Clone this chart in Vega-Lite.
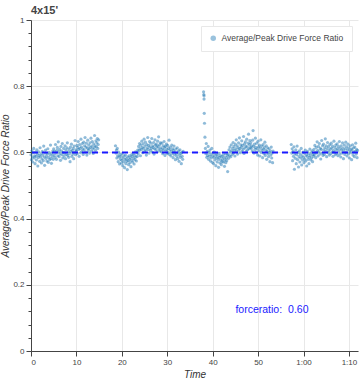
{
"$schema": "https://vega.github.io/schema/vega-lite/v6.json",
"width": 327,
"height": 331,
"autosize": {"type": "none"},
"padding": {"left": 31, "top": 20, "right": 3, "bottom": 29},
"title": {"text": "4x15'", "anchor": "start", "frame": "group", "fontSize": 11, "fontWeight": "bold", "color": "#444", "offset": 0, "font": "Liberation Sans"},
"config": {
  "font": "Liberation Sans",
  "view": {"stroke": null},
  "axis": {"domainColor": "#444", "tickColor": "#444", "tickSize": 5, "labelFontSize": 8, "labelColor": "#444", "gridColor": "#e8e8e8", "titleFontStyle": "italic", "titleFontWeight": "normal", "titleFontSize": 10, "titleColor": "#333", "labelPadding": 2},
  "legend": {"strokeColor": "#e8e8e8", "fillColor": "white", "padding": 8, "labelFontSize": 8.5, "labelColor": "#444", "symbolType": "circle", "symbolSize": 30, "symbolOpacity": 0.45, "orient": "top-right", "offset": 6}
},
"resolve": {"axis": {"y": "independent"}},
"datasets": {
"pts": [
{"t":0,"r":0.593},{"t":0.1,"r":0.578},{"t":0.2,"r":0.605},{"t":0.3,"r":0.586},{"t":0.4,"r":0.571},{"t":0.5,"r":0.599},{"t":0.6,"r":0.612},{"t":0.7,"r":0.583},{"t":0.8,"r":0.59},{"t":0.9,"r":0.566},
{"t":1,"r":0.601},{"t":1.1,"r":0.588},{"t":1.2,"r":0.577},{"t":1.3,"r":0.608},{"t":1.4,"r":0.595},{"t":1.5,"r":0.559},{"t":1.6,"r":0.584},{"t":1.7,"r":0.602},{"t":1.8,"r":0.591},{"t":1.9,"r":0.573},
{"t":2,"r":0.614},{"t":2.1,"r":0.587},{"t":2.2,"r":0.596},{"t":2.3,"r":0.568},{"t":2.4,"r":0.58},{"t":2.5,"r":0.603},{"t":2.6,"r":0.592},{"t":2.7,"r":0.575},{"t":2.8,"r":0.619},{"t":2.9,"r":0.586},
{"t":3,"r":0.561},{"t":3.1,"r":0.598},{"t":3.2,"r":0.607},{"t":3.3,"r":0.582},{"t":3.4,"r":0.589},{"t":3.5,"r":0.574},{"t":3.6,"r":0.596},{"t":3.7,"r":0.611},{"t":3.8,"r":0.57},{"t":3.9,"r":0.585},
{"t":4,"r":0.6},{"t":4.1,"r":0.578},{"t":4.2,"r":0.593},{"t":4.3,"r":0.622},{"t":4.4,"r":0.581},{"t":4.5,"r":0.567},{"t":4.6,"r":0.597},{"t":4.7,"r":0.588},{"t":4.8,"r":0.604},{"t":4.9,"r":0.579},
{"t":5,"r":0.611},{"t":5.1,"r":0.592},{"t":5.2,"r":0.603},{"t":5.3,"r":0.585},{"t":5.4,"r":0.624},{"t":5.5,"r":0.598},{"t":5.6,"r":0.579},{"t":5.7,"r":0.606},{"t":5.8,"r":0.615},{"t":5.9,"r":0.59},
{"t":6,"r":0.632},{"t":6.1,"r":0.601},{"t":6.2,"r":0.587},{"t":6.3,"r":0.609},{"t":6.4,"r":0.596},{"t":6.5,"r":0.576},{"t":6.6,"r":0.618},{"t":6.7,"r":0.604},{"t":6.8,"r":0.593},{"t":6.9,"r":0.627},
{"t":7,"r":0.583},{"t":7.1,"r":0.6},{"t":7.2,"r":0.612},{"t":7.3,"r":0.589},{"t":7.4,"r":0.598},{"t":7.5,"r":0.62},{"t":7.6,"r":0.581},{"t":7.7,"r":0.607},{"t":7.8,"r":0.594},{"t":7.9,"r":0.614},
{"t":8,"r":0.629},{"t":8.1,"r":0.591},{"t":8.2,"r":0.602},{"t":8.3,"r":0.585},{"t":8.4,"r":0.61},{"t":8.5,"r":0.597},{"t":8.6,"r":0.572},{"t":8.7,"r":0.616},{"t":8.8,"r":0.603},{"t":8.9,"r":0.625},
{"t":9,"r":0.588},{"t":9.1,"r":0.606},{"t":9.2,"r":0.595},{"t":9.3,"r":0.612},{"t":9.4,"r":0.581},{"t":9.5,"r":0.619},{"t":9.6,"r":0.6},{"t":9.7,"r":0.636},{"t":9.8,"r":0.593},{"t":9.9,"r":0.608},
{"t":10,"r":0.604},{"t":10.1,"r":0.621},{"t":10.2,"r":0.596},{"t":10.3,"r":0.615},{"t":10.4,"r":0.633},{"t":10.5,"r":0.609},{"t":10.6,"r":0.588},{"t":10.7,"r":0.624},{"t":10.8,"r":0.612},{"t":10.9,"r":0.599},
{"t":11,"r":0.64},{"t":11.1,"r":0.617},{"t":11.2,"r":0.603},{"t":11.3,"r":0.627},{"t":11.4,"r":0.611},{"t":11.5,"r":0.594},{"t":11.6,"r":0.631},{"t":11.7,"r":0.608},{"t":11.8,"r":0.62},{"t":11.9,"r":0.645},
{"t":12,"r":0.601},{"t":12.1,"r":0.616},{"t":12.2,"r":0.628},{"t":12.3,"r":0.592},{"t":12.4,"r":0.613},{"t":12.5,"r":0.637},{"t":12.6,"r":0.606},{"t":12.7,"r":0.622},{"t":12.8,"r":0.611},{"t":12.9,"r":0.598},
{"t":13,"r":0.629},{"t":13.1,"r":0.615},{"t":13.2,"r":0.643},{"t":13.3,"r":0.604},{"t":13.4,"r":0.619},{"t":13.5,"r":0.633},{"t":13.6,"r":0.61},{"t":13.7,"r":0.597},{"t":13.8,"r":0.626},{"t":13.9,"r":0.614},
{"t":14,"r":0.651},{"t":14.1,"r":0.62},{"t":14.2,"r":0.606},{"t":14.3,"r":0.635},{"t":14.4,"r":0.617},{"t":14.5,"r":0.629},{"t":14.6,"r":0.642},{"t":14.7,"r":0.612},{"t":14.8,"r":0.624},{"t":14.9,"r":0.638},
{"t":18.6,"r":0.62},{"t":18.7,"r":0.598},{"t":18.8,"r":0.607},{"t":18.9,"r":0.583},{"t":19,"r":0.612},{"t":19.1,"r":0.59},{"t":19.2,"r":0.572},{"t":19.3,"r":0.601},{"t":19.4,"r":0.586},{"t":19.5,"r":0.565},
{"t":19.6,"r":0.594},{"t":19.7,"r":0.579},{"t":19.8,"r":0.588},{"t":19.9,"r":0.568},{"t":20,"r":0.576},{"t":20.1,"r":0.596},{"t":20.2,"r":0.56},{"t":20.3,"r":0.583},{"t":20.4,"r":0.571},{"t":20.5,"r":0.589},
{"t":20.6,"r":0.554},{"t":20.7,"r":0.578},{"t":20.8,"r":0.592},{"t":20.9,"r":0.566},{"t":21,"r":0.581},{"t":21.1,"r":0.573},{"t":21.2,"r":0.548},{"t":21.3,"r":0.586},{"t":21.4,"r":0.575},{"t":21.5,"r":0.563},
{"t":21.6,"r":0.59},{"t":21.7,"r":0.579},{"t":21.8,"r":0.569},{"t":21.9,"r":0.584},{"t":22,"r":0.557},{"t":22.1,"r":0.593},{"t":22.2,"r":0.576},{"t":22.3,"r":0.588},{"t":22.4,"r":0.571},{"t":22.5,"r":0.597},
{"t":22.6,"r":0.582},{"t":22.7,"r":0.565},{"t":22.8,"r":0.591},{"t":22.9,"r":0.578},{"t":23,"r":0.602},{"t":23.1,"r":0.586},{"t":23.2,"r":0.574},{"t":23.3,"r":0.599},{"t":23.4,"r":0.588},{"t":23.5,"r":0.607},
{"t":23.6,"r":0.596},{"t":23.7,"r":0.618},{"t":23.8,"r":0.605},{"t":23.9,"r":0.627},{"t":24,"r":0.611},{"t":24.1,"r":0.59},{"t":24.2,"r":0.622},{"t":24.3,"r":0.608},{"t":24.4,"r":0.634},{"t":24.5,"r":0.615},
{"t":24.6,"r":0.599},{"t":24.7,"r":0.626},{"t":24.8,"r":0.612},{"t":24.9,"r":0.64},{"t":25,"r":0.603},{"t":25.1,"r":0.619},{"t":25.2,"r":0.631},{"t":25.3,"r":0.607},{"t":25.4,"r":0.592},{"t":25.5,"r":0.624},
{"t":25.6,"r":0.614},{"t":25.7,"r":0.645},{"t":25.8,"r":0.609},{"t":25.9,"r":0.621},{"t":26,"r":0.598},{"t":26.1,"r":0.633},{"t":26.2,"r":0.617},{"t":26.3,"r":0.606},{"t":26.4,"r":0.628},{"t":26.5,"r":0.612},
{"t":26.6,"r":0.642},{"t":26.7,"r":0.601},{"t":26.8,"r":0.62},{"t":26.9,"r":0.615},{"t":27,"r":0.63},{"t":27.1,"r":0.595},{"t":27.2,"r":0.611},{"t":27.3,"r":0.638},{"t":27.4,"r":0.622},{"t":27.5,"r":0.608},
{"t":27.6,"r":0.625},{"t":27.7,"r":0.616},{"t":27.8,"r":0.602},{"t":27.9,"r":0.634},{"t":28,"r":0.618},{"t":28.1,"r":0.647},{"t":28.2,"r":0.61},{"t":28.3,"r":0.623},{"t":28.4,"r":0.605},{"t":28.5,"r":0.629},
{"t":28.6,"r":0.614},{"t":28.7,"r":0.602},{"t":28.8,"r":0.628},{"t":28.9,"r":0.61},{"t":29,"r":0.596},{"t":29.1,"r":0.62},{"t":29.2,"r":0.607},{"t":29.3,"r":0.633},{"t":29.4,"r":0.615},{"t":29.5,"r":0.591},
{"t":29.6,"r":0.618},{"t":29.7,"r":0.604},{"t":29.8,"r":0.625},{"t":29.9,"r":0.609},{"t":30,"r":0.597},{"t":30.1,"r":0.621},{"t":30.2,"r":0.6},{"t":30.3,"r":0.612},{"t":30.4,"r":0.637},{"t":30.5,"r":0.594},
{"t":30.6,"r":0.608},{"t":30.7,"r":0.616},{"t":30.8,"r":0.589},{"t":30.9,"r":0.603},{"t":31,"r":0.622},{"t":31.1,"r":0.597},{"t":31.2,"r":0.611},{"t":31.3,"r":0.584},{"t":31.4,"r":0.606},{"t":31.5,"r":0.619},
{"t":31.6,"r":0.593},{"t":31.7,"r":0.601},{"t":31.8,"r":0.578},{"t":31.9,"r":0.61},{"t":32,"r":0.596},{"t":32.1,"r":0.588},{"t":32.2,"r":0.614},{"t":32.3,"r":0.581},{"t":32.4,"r":0.599},{"t":32.5,"r":0.605},
{"t":32.6,"r":0.573},{"t":32.7,"r":0.592},{"t":32.8,"r":0.608},{"t":32.9,"r":0.585},{"t":33,"r":0.597},{"t":33.1,"r":0.566},{"t":33.2,"r":0.6},{"t":33.3,"r":0.588},{"t":33.4,"r":0.579},{"t":33.5,"r":0.603},
{"t":38,"r":0.783},{"t":38.05,"r":0.775},{"t":38.1,"r":0.771},{"t":38.1,"r":0.761},{"t":38.15,"r":0.718},{"t":38.2,"r":0.688},{"t":38.3,"r":0.646},
{"t":38.4,"r":0.612},{"t":38.5,"r":0.596},{"t":38.6,"r":0.627},{"t":38.7,"r":0.585},{"t":38.8,"r":0.603},{"t":38.9,"r":0.591},{"t":39,"r":0.618},{"t":39.1,"r":0.579},{"t":39.2,"r":0.6},{"t":39.3,"r":0.588},
{"t":39.4,"r":0.607},{"t":39.5,"r":0.574},{"t":39.6,"r":0.594},{"t":39.7,"r":0.583},{"t":39.8,"r":0.612},{"t":39.9,"r":0.57},{"t":40,"r":0.589},{"t":40.1,"r":0.598},{"t":40.2,"r":0.566},{"t":40.3,"r":0.585},
{"t":40.4,"r":0.601},{"t":40.5,"r":0.577},{"t":40.6,"r":0.592},{"t":40.7,"r":0.56},{"t":40.8,"r":0.583},{"t":40.9,"r":0.595},{"t":41,"r":0.571},{"t":41.1,"r":0.588},{"t":41.2,"r":0.579},{"t":41.3,"r":0.555},
{"t":41.4,"r":0.597},{"t":41.5,"r":0.584},{"t":41.6,"r":0.568},{"t":41.7,"r":0.59},{"t":41.8,"r":0.576},{"t":41.9,"r":0.563},
{"t":42,"r":0.587},{"t":42.1,"r":0.572},{"t":42.2,"r":0.58},{"t":42.3,"r":0.593},{"t":42.4,"r":0.571},{"t":42.5,"r":0.586},{"t":42.6,"r":0.558},{"t":42.7,"r":0.578},{"t":42.8,"r":0.596},{"t":42.9,"r":0.569},
{"t":43,"r":0.584},{"t":43.1,"r":0.575},{"t":43.2,"r":0.591},{"t":43.3,"r":0.542},
{"t":43.4,"r":0.595},{"t":43.5,"r":0.582},{"t":43.6,"r":0.608},{"t":43.7,"r":0.59},{"t":43.8,"r":0.616},{"t":43.9,"r":0.601},{"t":44,"r":0.587},{"t":44.1,"r":0.623},{"t":44.2,"r":0.605},{"t":44.3,"r":0.594},
{"t":44.4,"r":0.612},{"t":44.5,"r":0.63},{"t":44.6,"r":0.598},{"t":44.7,"r":0.618},{"t":44.8,"r":0.606},{"t":44.9,"r":0.589},{"t":45,"r":0.625},{"t":45.1,"r":0.611},{"t":45.2,"r":0.638},{"t":45.3,"r":0.603},
{"t":45.4,"r":0.62},{"t":45.5,"r":0.595},{"t":45.6,"r":0.614},{"t":45.7,"r":0.629},{"t":45.8,"r":0.607},{"t":45.9,"r":0.644},{"t":46,"r":0.612},{"t":46.1,"r":0.599},{"t":46.2,"r":0.623},{"t":46.3,"r":0.616},
{"t":46.4,"r":0.635},{"t":46.5,"r":0.604},{"t":46.6,"r":0.621},{"t":46.7,"r":0.61},{"t":46.8,"r":0.648},{"t":46.9,"r":0.597},{"t":47,"r":0.626},{"t":47.1,"r":0.613},{"t":47.2,"r":0.632},{"t":47.3,"r":0.619},
{"t":47.4,"r":0.603},{"t":47.5,"r":0.64},{"t":47.6,"r":0.617},{"t":47.7,"r":0.608},{"t":47.8,"r":0.628},{"t":47.9,"r":0.655},{"t":48,"r":0.611},{"t":48.1,"r":0.624},{"t":48.2,"r":0.636},{"t":48.3,"r":0.615},
{"t":48.4,"r":0.629},{"t":48.5,"r":0.612},{"t":48.6,"r":0.62},{"t":48.7,"r":0.604},{"t":48.8,"r":0.637},{"t":48.9,"r":0.666},{"t":49,"r":0.618},{"t":49.1,"r":0.598},{"t":49.2,"r":0.625},{"t":49.3,"r":0.609},
{"t":49.4,"r":0.643},{"t":49.5,"r":0.615},{"t":49.6,"r":0.601},{"t":49.7,"r":0.628},{"t":49.8,"r":0.611},{"t":49.9,"r":0.592},{"t":50,"r":0.634},{"t":50.1,"r":0.617},{"t":50.2,"r":0.605},{"t":50.3,"r":0.622},
{"t":50.4,"r":0.589},{"t":50.5,"r":0.613},{"t":50.6,"r":0.638},{"t":50.7,"r":0.6},{"t":50.8,"r":0.619},{"t":50.9,"r":0.607},{"t":51,"r":0.584},{"t":51.1,"r":0.624},{"t":51.2,"r":0.61},{"t":51.3,"r":0.596},
{"t":51.4,"r":0.615},{"t":51.5,"r":0.631},{"t":51.6,"r":0.591},{"t":51.7,"r":0.606},{"t":51.8,"r":0.62},{"t":51.9,"r":0.579},{"t":52,"r":0.603},{"t":52.1,"r":0.614},{"t":52.2,"r":0.596},{"t":52.3,"r":0.587},
{"t":52.4,"r":0.611},{"t":52.5,"r":0.6},{"t":52.6,"r":0.572},{"t":52.7,"r":0.605},{"t":52.8,"r":0.592},{"t":52.9,"r":0.616},{"t":53,"r":0.583},{"t":53.1,"r":0.598},{"t":53.2,"r":0.569},{"t":53.3,"r":0.604},
{"t":57.3,"r":0.624},{"t":57.4,"r":0.598},{"t":57.5,"r":0.611},{"t":57.6,"r":0.575},{"t":57.7,"r":0.603},{"t":57.8,"r":0.588},{"t":57.9,"r":0.617},{"t":58,"r":0.549},{"t":58.1,"r":0.596},{"t":58.2,"r":0.582},
{"t":58.3,"r":0.608},{"t":58.4,"r":0.566},{"t":58.5,"r":0.593},{"t":58.6,"r":0.619},{"t":58.7,"r":0.578},{"t":58.8,"r":0.6},{"t":58.9,"r":0.556},{"t":59,"r":0.587},{"t":59.1,"r":0.605},{"t":59.2,"r":0.571},
{"t":59.3,"r":0.595},{"t":59.4,"r":0.583},{"t":59.5,"r":0.612},{"t":59.6,"r":0.562},{"t":59.7,"r":0.59},{"t":59.8,"r":0.577},{"t":59.9,"r":0.601},{"t":60,"r":0.585},{"t":60.1,"r":0.569},{"t":60.2,"r":0.598},
{"t":60.3,"r":0.58},{"t":60.4,"r":0.607},{"t":60.5,"r":0.574},{"t":60.6,"r":0.592},{"t":60.7,"r":0.559},{"t":60.8,"r":0.588},{"t":60.9,"r":0.603},{"t":61,"r":0.579},{"t":61.1,"r":0.596},{"t":61.2,"r":0.566},
{"t":61.3,"r":0.585},{"t":61.4,"r":0.61},{"t":61.5,"r":0.591},{"t":61.6,"r":0.577},{"t":61.7,"r":0.599},{"t":61.8,"r":0.583},{"t":61.9,"r":0.605},{"t":62,"r":0.572},{"t":62.1,"r":0.594},{"t":62.2,"r":0.588},
{"t":62.3,"r":0.609},{"t":62.4,"r":0.593},{"t":62.5,"r":0.621},{"t":62.6,"r":0.6},{"t":62.7,"r":0.584},{"t":62.8,"r":0.615},{"t":62.9,"r":0.598},{"t":63,"r":0.632},{"t":63.1,"r":0.606},{"t":63.2,"r":0.589},
{"t":63.3,"r":0.618},{"t":63.4,"r":0.602},{"t":63.5,"r":0.627},{"t":63.6,"r":0.595},{"t":63.7,"r":0.612},{"t":63.8,"r":0.58},{"t":63.9,"r":0.609},{"t":64,"r":0.636},{"t":64.1,"r":0.598},{"t":64.2,"r":0.62},
{"t":64.3,"r":0.591},{"t":64.4,"r":0.625},{"t":64.5,"r":0.607},{"t":64.6,"r":0.594},{"t":64.7,"r":0.614},{"t":64.8,"r":0.641},{"t":64.9,"r":0.603},{"t":65,"r":0.62},{"t":65.1,"r":0.587},{"t":65.2,"r":0.611},
{"t":65.3,"r":0.63},{"t":65.4,"r":0.599},{"t":65.5,"r":0.617},{"t":65.6,"r":0.605},{"t":65.7,"r":0.592},{"t":65.8,"r":0.623},{"t":65.9,"r":0.61},{"t":66,"r":0.596},{"t":66.1,"r":0.628},{"t":66.2,"r":0.613},
{"t":66.3,"r":0.601},{"t":66.4,"r":0.619},{"t":66.5,"r":0.588},{"t":66.6,"r":0.606},{"t":66.7,"r":0.634},{"t":66.8,"r":0.6},{"t":66.9,"r":0.615},{"t":67,"r":0.593},{"t":67.1,"r":0.622},{"t":67.2,"r":0.608},
{"t":67.3,"r":0.597},{"t":67.4,"r":0.626},{"t":67.5,"r":0.611},{"t":67.6,"r":0.59},{"t":67.7,"r":0.618},{"t":67.8,"r":0.604},{"t":67.9,"r":0.633},{"t":68,"r":0.595},{"t":68.1,"r":0.612},{"t":68.2,"r":0.586},
{"t":68.3,"r":0.62},{"t":68.4,"r":0.607},{"t":68.5,"r":0.598},{"t":68.6,"r":0.629},{"t":68.7,"r":0.613},{"t":68.8,"r":0.581},{"t":68.9,"r":0.605},{"t":69,"r":0.622},{"t":69.1,"r":0.594},{"t":69.2,"r":0.611},
{"t":69.3,"r":0.631},{"t":69.4,"r":0.6},{"t":69.5,"r":0.617},{"t":69.6,"r":0.589},{"t":69.7,"r":0.608},{"t":69.8,"r":0.625},{"t":69.9,"r":0.596},{"t":70,"r":0.613},{"t":70.1,"r":0.583},{"t":70.2,"r":0.604},
{"t":70.3,"r":0.62},{"t":70.4,"r":0.599},{"t":70.5,"r":0.61},{"t":70.6,"r":0.578},{"t":70.7,"r":0.607},{"t":70.8,"r":0.623},{"t":70.9,"r":0.592},{"t":71,"r":0.614},{"t":71.1,"r":0.601},{"t":71.2,"r":0.587},
{"t":71.3,"r":0.616},{"t":71.4,"r":0.603},{"t":71.5,"r":0.628},{"t":71.6,"r":0.595},{"t":71.7,"r":0.609},{"t":71.8,"r":0.584},{"t":71.9,"r":0.606}
],
"lbl": [{"t":45,"r":0.124,"label":"forceratio:"},{"t":56.6,"r":0.124,"label":"0.60"}],
"ref": [{"r":0.6}],
"minor": [{"r":0.04},{"r":0.08},{"r":0.12},{"r":0.16},{"r":0.24},{"r":0.28},{"r":0.32},{"r":0.36},{"r":0.44},{"r":0.48},{"r":0.52},{"r":0.56},{"r":0.64},{"r":0.68},{"r":0.72},{"r":0.76},{"r":0.84},{"r":0.88},{"r":0.92},{"r":0.96}]
},
"layer": [
  {
    "data": {"name": "pts"},
    "mark": {"type": "point", "filled": true, "size": 10, "opacity": 0.5, "color": "#1f77b4"},
    "encoding": {
      "x": {"field": "t", "type": "quantitative", "title": "Time", "scale": {"domain": [0, 72], "nice": false},
            "axis": {"values": [0,10,20,30,40,50,60,70], "labelExpr": "datum.value >= 60 ? floor(datum.value/60) + ':' + (datum.value % 60 < 10 ? '0' : '') + (datum.value % 60) : datum.value", "titlePadding": 3}},
      "y": {"field": "r", "type": "quantitative", "title": "Average/Peak Drive Force Ratio", "scale": {"domain": [0, 1], "nice": false},
            "axis": {"values": [0,0.2,0.4,0.6,0.8,1], "format": "~g", "titlePadding": 2, "orient": "left"}},
      "color": {"datum": "Average/Peak Drive Force Ratio", "type": "nominal", "scale": {"range": ["#1f77b4"]}, "legend": {"title": null}}
    }
  },
  {
    "data": {"name": "ref"},
    "mark": {"type": "rule", "color": "#1a1aff", "strokeDash": [6, 4], "strokeWidth": 2},
    "encoding": {"y": {"field": "r", "type": "quantitative", "axis": null}}
  },
  {
    "data": {"name": "minor"},
    "mark": {"type": "point", "opacity": 0},
    "encoding": {"y": {"field": "r", "type": "quantitative", "axis": {"orient": "left", "values": [0.04,0.08,0.12,0.16,0.24,0.28,0.32,0.36,0.44,0.48,0.52,0.56,0.64,0.68,0.72,0.76,0.84,0.88,0.92,0.96], "labels": false, "grid": false, "domain": false, "tickSize": 3, "title": null}}}
  },
  {
    "data": {"name": "lbl"},
    "mark": {"type": "text", "align": "left", "baseline": "middle", "color": "#1a1aff", "fontSize": 10.5},
    "encoding": {
      "x": {"field": "t", "type": "quantitative"},
      "y": {"field": "r", "type": "quantitative", "axis": null},
      "text": {"field": "label"}
    }
  }
]
}
